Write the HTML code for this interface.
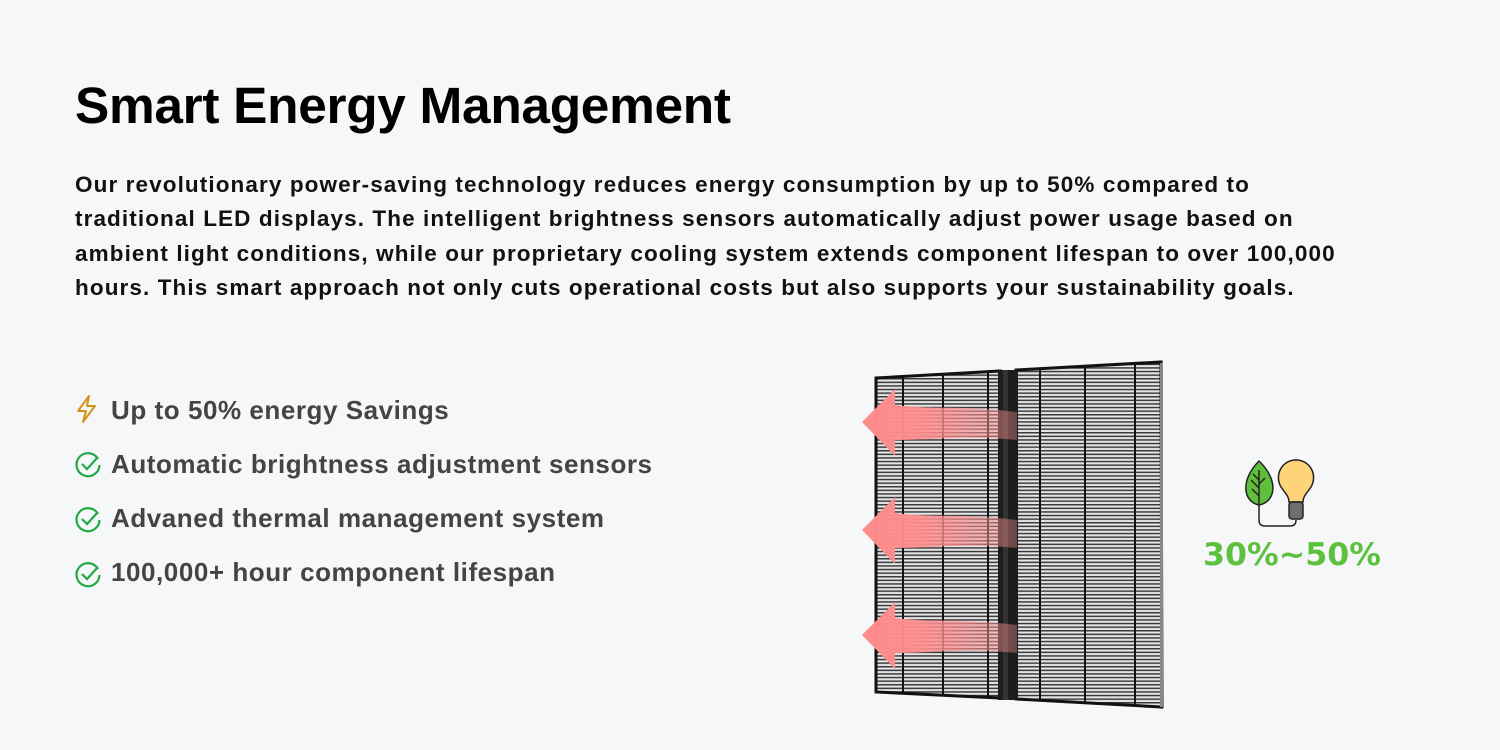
<!DOCTYPE html>
<html><head><meta charset="utf-8"><style>
body{margin:0;width:1500px;height:750px;background:#f6f7f9;font-family:"Liberation Sans",sans-serif;position:relative;overflow:hidden}
h1{position:absolute;left:75px;top:75px;margin:0;font-size:51.4px;font-weight:bold;color:#000;letter-spacing:-0.3px}
.p{position:absolute;left:75px;top:168px;font-size:22.5px;letter-spacing:1.1px;font-weight:bold;line-height:34.3px;color:#111;white-space:nowrap}
.li{position:absolute;left:111px;font-size:26px;letter-spacing:0.55px;font-weight:bold;color:#444;white-space:nowrap}
.ic{position:absolute;left:74px}
</style></head><body>
<h1>Smart Energy Management</h1>
<div class="p">Our revolutionary power-saving technology reduces energy consumption by up to 50% compared to<br>traditional LED displays. The intelligent brightness sensors automatically adjust power usage based on<br>ambient light conditions, while our proprietary cooling system extends component lifespan to over 100,000<br>hours. This smart approach not only cuts operational costs but also supports your sustainability goals.</div>

<svg class="ic" style="top:394px" width="26" height="30" viewBox="0 0 26 30"><path d="M15 2 L4 17 H12 L9 28 L21 12 H13 Z" fill="none" stroke="#d4901a" stroke-width="2" stroke-linejoin="round"/></svg>
<div class="li" style="top:395px">Up to 50% energy Savings</div>
<svg class="ic" style="top:451px" width="28" height="28" viewBox="0 0 28 28"><path d="M24 8 A11.5 11.5 0 1 0 25.5 14" fill="none" stroke="#22a845" stroke-width="2.2"/><path d="M8 13 L13 18 L24 6" fill="none" stroke="#22a845" stroke-width="2.2"/></svg>
<div class="li" style="top:449px">Automatic brightness adjustment sensors</div>
<svg class="ic" style="top:506px" width="28" height="28" viewBox="0 0 28 28"><path d="M24 8 A11.5 11.5 0 1 0 25.5 14" fill="none" stroke="#22a845" stroke-width="2.2"/><path d="M8 13 L13 18 L24 6" fill="none" stroke="#22a845" stroke-width="2.2"/></svg>
<div class="li" style="top:503px">Advaned thermal management system</div>
<svg class="ic" style="top:561px" width="28" height="28" viewBox="0 0 28 28"><path d="M24 8 A11.5 11.5 0 1 0 25.5 14" fill="none" stroke="#22a845" stroke-width="2.2"/><path d="M8 13 L13 18 L24 6" fill="none" stroke="#22a845" stroke-width="2.2"/></svg>
<div class="li" style="top:557px">100,000+ hour component lifespan</div>

<svg style="position:absolute;left:0;top:0" width="1500" height="750">
<defs>
<pattern id="ln" width="10" height="3.6" patternUnits="userSpaceOnUse"><rect width="10" height="3.6" fill="#e4e5e7"/><rect width="10" height="1.5" fill="#3a3a3a"/></pattern>
<linearGradient id="ag" x1="0" x2="1" y1="0" y2="0"><stop offset="0" stop-color="#ff8a8a"/><stop offset="0.35" stop-color="#ff8f8f" stop-opacity="0.95"/><stop offset="1" stop-color="#ff9090" stop-opacity="0.35"/></linearGradient>
</defs>
<polygon points="876,378 1000,371 1000,698 876,692" fill="url(#ln)" stroke="#111" stroke-width="3"/>
<polygon points="1016,370 1161,362 1162,707 1016,699" fill="url(#ln)" stroke="#111" stroke-width="3"/>
<rect x="1160" y="363" width="3" height="344" fill="#888"/>
<g stroke="#111" stroke-width="2">
<line x1="903" y1="377" x2="903" y2="693"/><line x1="943" y1="375" x2="943" y2="695"/><line x1="988" y1="372" x2="988" y2="697"/>
<line x1="1040" y1="369" x2="1040" y2="700"/><line x1="1085" y1="366" x2="1085" y2="703"/><line x1="1135" y1="364" x2="1135" y2="705"/>
</g>
<rect x="998" y="370" width="20" height="330" fill="#1d1d1d"/>
<rect x="1003" y="370" width="5" height="330" fill="#333"/>
<g fill="url(#ag)">
<path d="M862,422 L895,389 L895,405 C935,410 960,405 1017,412 L1017,440 C960,435 935,440 895,440 L895,456 Z"/>
<path d="M862,530 L895,497 L895,513 C935,518 960,513 1017,520 L1017,548 C960,543 935,548 895,548 L895,564 Z"/>
<path d="M862,635 L895,602 L895,618 C935,623 960,618 1017,625 L1017,653 C960,648 935,653 895,653 L895,669 Z"/>
</g>
<g stroke="#222" stroke-width="1.5">
<path d="M1259,461 C1240,480 1243,502 1259,505 C1276,502 1279,480 1259,461 Z" fill="#5fbe3a"/>
<path d="M1259,470 V504 M1259,480 L1253,474 M1259,488 L1251,480 M1259,496 L1252,489 M1259,484 L1265,478" fill="none"/>
<path d="M1296,460 C1282,460 1274,475 1281,487 C1285,493 1289,496 1289,502 H1303 C1303,496 1307,493 1311,487 C1318,475 1310,460 1296,460 Z" fill="#fdd477"/>
<rect x="1289" y="502" width="14" height="17" rx="3" fill="#6e6e6e"/>
<path d="M1259,505 V520 Q1259,526 1265,526 H1290 Q1296,526 1296,520" fill="none"/>
</g>
<text x="1292" y="565" text-anchor="middle" font-family="DejaVu Sans,sans-serif" font-weight="bold" font-size="31" textLength="178" lengthAdjust="spacingAndGlyphs" fill="#5cc23e">30%~50%</text>
</svg>
</body></html>
